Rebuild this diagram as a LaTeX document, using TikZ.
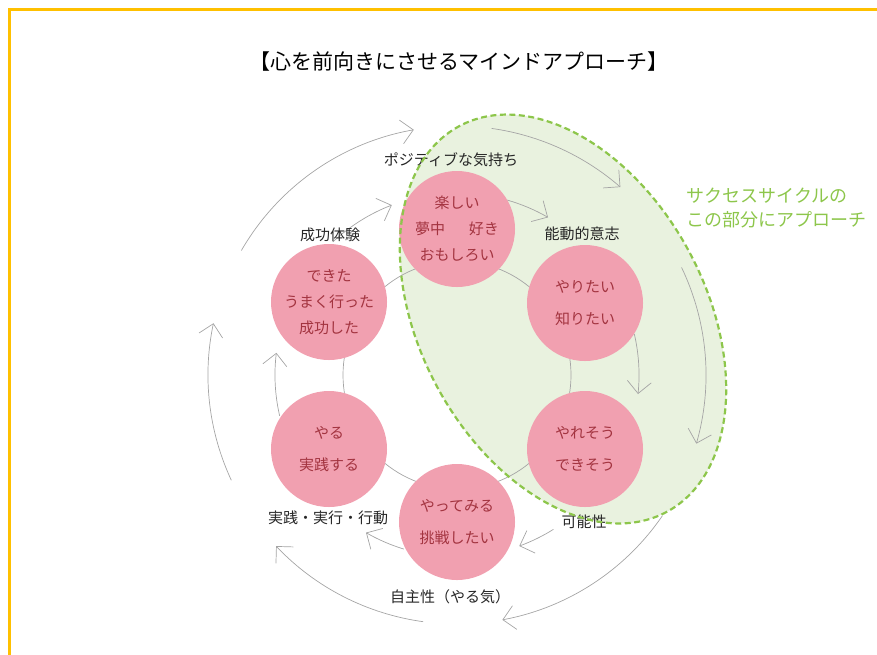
\documentclass[tikz,border=0pt]{standalone}
\usepackage{fontspec}
\setmainfont{Noto Sans CJK JP}
\definecolor{framegold}{RGB}{255, 192, 0}
\definecolor{cyclepink}{RGB}{241, 160, 176}
\definecolor{cyclered}{RGB}{163, 52, 64}
\definecolor{approachgreen}{RGB}{141, 198, 75}
\definecolor{approachbg}{RGB}{233, 242, 223}
\definecolor{arcgrey}{RGB}{165, 165, 165}
\usetikzlibrary{arrows.meta, positioning}

\begin{document}
\begin{tikzpicture}[x=1pt, y=-1pt,
  stage/.style={circle, fill=cyclepink, minimum size=116pt, inner sep=0pt, align=center, text=cyclered, font=\fontsize{15}{26}\selectfont},
  phase/.style={font=\fontsize{15}{18}\selectfont, text=black!85},
  flow/.style={draw=arcgrey, line width=0.7pt, -{Straight Barb[length=12pt, width=24pt]}}]
  \useasboundingbox (0,0) rectangle (877,654);

  % Approach area
  \fill[approachbg, rotate around={-61.7:(563,319)}] (563,319) ellipse [x radius=219, y radius=143];

  % Cycle ring
  \coordinate (hub) at (457,375);
  \draw[arcgrey, line width=0.7pt] (hub) circle[radius=114];

  % Inner arrows
  \draw[flow] (hub) ++(-133:182) arc[start angle=-133, end angle=-111, radius=182];
  \draw[flow] (hub) ++(-74:182) arc[start angle=-74, end angle=-60, radius=182];
  \draw[flow] (hub) ++(-13:182) arc[start angle=-13, end angle=6, radius=182];
  \draw[flow] (hub) ++(58:182) arc[start angle=58, end angle=70, radius=182];
  \draw[flow] (hub) ++(107:182) arc[start angle=107, end angle=120, radius=182];
  \draw[flow] (hub) ++(167:182) arc[start angle=167, end angle=187, radius=182];

  % Outer arrows
  \draw[flow] (hub) ++(-150:249) arc[start angle=-150, end angle=-100, radius=249];
  \draw[flow] (hub) ++(-82:249) arc[start angle=-82, end angle=-49, radius=249];
  \draw[flow] (hub) ++(-25.6:249) arc[start angle=-25.6, end angle=16, radius=249];
  \draw[flow] (hub) ++(34.4:249) arc[start angle=34.4, end angle=79.5, radius=249];
  \draw[flow] (hub) ++(97.8:249) arc[start angle=97.8, end angle=136.6, radius=249];
  \draw[flow] (hub) ++(155:249) arc[start angle=155, end angle=192, radius=249];

  % Stages
  \node[stage] (fun) at (457,229) {楽しい\\夢中\hspace{24pt}好き\\おもしろい};
  \node[stage] (want) at (585,303) {やりたい\\[6pt]知りたい};
  \node[stage] (can) at (585,449) {やれそう\\[6pt]できそう};
  \node[stage] (tryit) at (457,522) {やってみる\\[6pt]挑戦したい};
  \node[stage] (doit) at (329,449) {やる\\[6pt]実践する};
  \node[stage] (done) at (329,302) {できた\\うまく行った\\成功した};

  % Phase labels
  \node[phase] (lpos) at (451,160) {ポジティブな気持ち};
  \node[phase] (lwill) at (582,234) {能動的意志};
  \node[phase] (lposs) at (584,522) {可能性};
  \node[phase] (lauto) at (450,597) {自主性（やる気）};
  \node[phase] (lact) at (328,518) {実践・実行・行動};
  \node[phase] (lsuc) at (330,235) {成功体験};

  % Approach outline and note
  \draw[approachgreen, line width=2.2pt, dash pattern=on 6pt off 3.5pt, rotate around={-61.7:(563,319)}] (563,319) ellipse [x radius=219, y radius=143];
  \node[anchor=west, align=left, text=approachgreen, font=\fontsize{18}{24}\selectfont] (note) at (683,208) {サクセスサイクルの\\この部分にアプローチ};

  % Title and frame
  \node[font=\fontsize{21}{24}\selectfont] (title) at (459,62) {【心を前向きにさせるマインドアプローチ】};
  \draw[framegold, line width=3pt] (9,660) -- (9,9) -- (880,9);
\end{tikzpicture}
\end{document}
